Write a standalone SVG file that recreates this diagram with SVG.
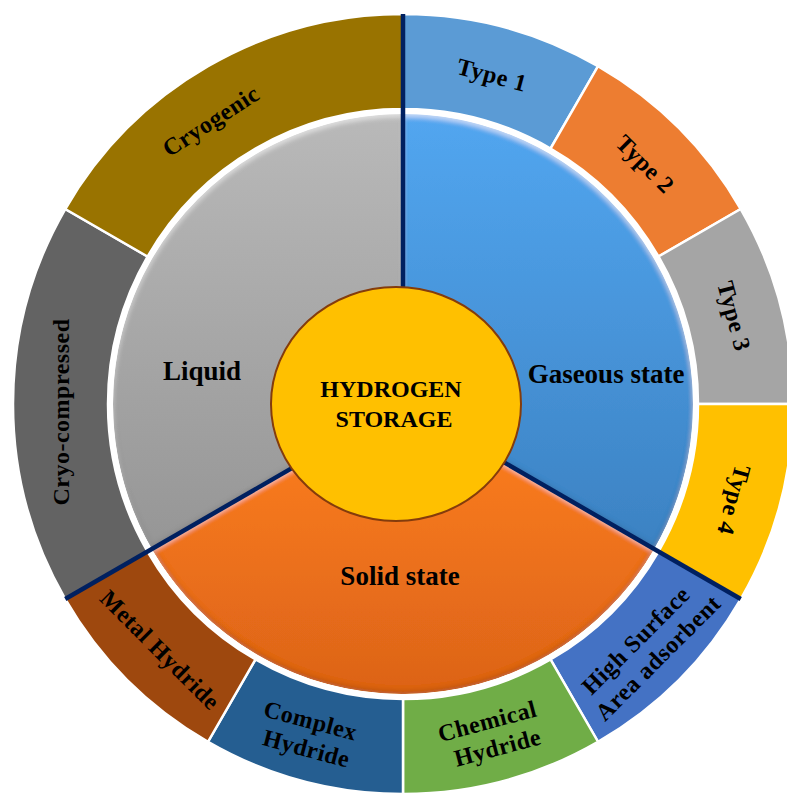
<svg xmlns="http://www.w3.org/2000/svg" width="787" height="797" viewBox="0 0 787 797">
  <defs>
    <style>
      .seg { stroke: #ffffff; stroke-width: 2.5; stroke-linejoin: miter; }
      .lbl { font-family: "Liberation Serif", "Times New Roman", serif; font-weight: bold; fill: #000; text-anchor: middle; }
      .outer { font-size: 24px; letter-spacing: 0.5px; }
      .state { font-size: 27px; }
      .core { font-size: 24px; }
      .divider { stroke: #002060; stroke-width: 4.5; stroke-linecap: butt; }
    </style>
    <linearGradient id="gLiquid" gradientUnits="userSpaceOnUse" x1="0" y1="114" x2="0" y2="694">
      <stop offset="0" stop-color="#b9b9b9"/>
      <stop offset="1" stop-color="#8a8a8a"/>
    </linearGradient>
    <linearGradient id="gGas" gradientUnits="userSpaceOnUse" x1="0" y1="114" x2="0" y2="694">
      <stop offset="0" stop-color="#52a6f0"/>
      <stop offset="1" stop-color="#3576b3"/>
    </linearGradient>
    <linearGradient id="gSolid" gradientUnits="userSpaceOnUse" x1="0" y1="404" x2="0" y2="694">
      <stop offset="0" stop-color="#ff801f"/>
      <stop offset="1" stop-color="#dc6318"/>
    </linearGradient>
    <!-- soft bevel: light along upper edges, shade along lower edges -->
    <filter id="bevel" x="-5%" y="-5%" width="110%" height="110%">
      <feGaussianBlur in="SourceAlpha" stdDeviation="2.5" result="blur"/>
      <feOffset in="blur" dy="3" result="down"/>
      <feComposite in="SourceAlpha" in2="down" operator="arithmetic" k2="1" k3="-1" result="hiMask"/>
      <feFlood flood-color="#ffffff" flood-opacity="0.55"/>
      <feComposite in2="hiMask" operator="in" result="hi"/>
      <feOffset in="blur" dy="-3" result="up"/>
      <feComposite in="SourceAlpha" in2="up" operator="arithmetic" k2="1" k3="-1" result="shMask"/>
      <feFlood flood-color="#000000" flood-opacity="0.3"/>
      <feComposite in2="shMask" operator="in" result="sh"/>
      <feMerge>
        <feMergeNode in="SourceGraphic"/>
        <feMergeNode in="hi"/>
        <feMergeNode in="sh"/>
      </feMerge>
    </filter>
  </defs>

  <rect width="787" height="797" fill="#ffffff"/>

  <!-- outer ring: sub-categories -->
  <g id="type-1">
    <path class="seg" fill="#5b9bd5" d="M403,14 A390,390 0 0 1 598,66.25 L550.5,148.53 A295,295 0 0 0 403,109 Z"/>
    <text class="lbl outer" transform="translate(492,75) rotate(15)" y="8">Type 1</text>
  </g>
  <g id="type-2">
    <path class="seg" fill="#ed7d31" d="M598,66.25 A390,390 0 0 1 740.75,209 L658.47,256.5 A295,295 0 0 0 550.5,148.53 Z"/>
    <text class="lbl outer" transform="translate(645,164) rotate(45)" y="8">Type 2</text>
  </g>
  <g id="type-3">
    <path class="seg" fill="#a5a5a5" d="M740.75,209 A390,390 0 0 1 793,404 L698,404 A295,295 0 0 0 658.47,256.5 Z"/>
    <text class="lbl outer" transform="translate(734,316) rotate(75)" y="8">Type 3</text>
  </g>
  <g id="type-4">
    <path class="seg" fill="#ffc000" d="M793,404 A390,390 0 0 1 740.75,599 L658.47,551.5 A295,295 0 0 0 698,404 Z"/>
    <text class="lbl outer" transform="translate(734,500) rotate(105)" y="8">Type 4</text>
  </g>
  <g id="high-surface-area">
    <path class="seg" fill="#4472c4" d="M740.75,599 A390,390 0 0 1 598,741.75 L550.5,659.47 A295,295 0 0 0 658.47,551.5 Z"/>
    <text class="lbl outer" transform="translate(648,648) rotate(-45)">
      <tspan x="0" y="-6">High Surface</tspan>
      <tspan x="0" y="22">Area adsorbent</tspan>
    </text>
  </g>
  <g id="chemical-hydride">
    <path class="seg" fill="#70ad47" d="M598,741.75 A390,390 0 0 1 403,794 L403,699 A295,295 0 0 0 550.5,659.47 Z"/>
    <text class="lbl outer" transform="translate(494,734) rotate(-15)">
      <tspan x="0" y="-6">Chemical</tspan>
      <tspan x="0" y="22">Hydride</tspan>
    </text>
  </g>
  <g id="complex-hydride">
    <path class="seg" fill="#255e91" d="M403,794 A390,390 0 0 1 208,741.75 L255.5,659.47 A295,295 0 0 0 403,699 Z"/>
    <text class="lbl outer" transform="translate(310,735) rotate(15)">
      <tspan x="0" y="-6">Complex</tspan>
      <tspan x="0" y="22">Hydride</tspan>
    </text>
  </g>
  <g id="metal-hydride">
    <path class="seg" fill="#9e480e" d="M208,741.75 A390,390 0 0 1 65.25,599 L147.53,551.5 A295,295 0 0 0 255.5,659.47 Z"/>
    <text class="lbl outer" transform="translate(160,650) rotate(45)" y="8">Metal Hydride</text>
  </g>
  <g id="cryo-compressed">
    <path class="seg" fill="#636363" d="M65.25,599 A390,390 0 0 1 65.25,209 L147.53,256.5 A295,295 0 0 0 147.53,551.5 Z"/>
    <text class="lbl outer" transform="translate(61,412) rotate(-90)" y="8">Cryo-compressed</text>
  </g>
  <g id="cryogenic">
    <path class="seg" fill="#997300" d="M65.25,209 A390,390 0 0 1 403,14 L403,109 A295,295 0 0 0 147.53,256.5 Z"/>
    <text class="lbl outer" transform="translate(211,121) rotate(-33)" y="8">Cryogenic</text>
  </g>

  <!-- inner pie: states -->
  <g id="liquid">
    <path fill="url(#gLiquid)" filter="url(#bevel)" d="M403,404 L151.85,549 A290,290 0 0 1 403,114 Z"/>
    <text class="lbl state" x="202" y="380">Liquid</text>
  </g>
  <g id="gaseous-state">
    <path fill="url(#gGas)" filter="url(#bevel)" d="M403,404 L403,114 A290,290 0 0 1 654.15,549 Z"/>
    <text class="lbl state" x="606" y="383">Gaseous state</text>
  </g>
  <g id="solid-state">
    <path fill="url(#gSolid)" filter="url(#bevel)" d="M403,404 L654.15,549 A290,290 0 0 1 151.85,549 Z"/>
    <text class="lbl state" x="400" y="585">Solid state</text>
  </g>
  <circle cx="403" cy="404" r="291.5" fill="none" stroke="#ffffff" stroke-width="3"/>

  <!-- connectors: dividing lines between the three states -->
  <g id="connectors">
    <line class="divider" x1="403" y1="404" x2="403" y2="14"/>
    <line class="divider" x1="403" y1="404" x2="740.75" y2="599"/>
    <line class="divider" x1="403" y1="404" x2="65.25" y2="599"/>
  </g>

  <!-- hub -->
  <g id="hydrogen-storage">
    <ellipse cx="396" cy="404" rx="125" ry="117" fill="#ffc000" stroke="#843c0c" stroke-width="2"/>
    <text class="lbl core">
      <tspan x="394" y="397">HYDROGEN</tspan>
      <tspan x="394" y="427">STORAGE</tspan>
    </text>
  </g>
</svg>
